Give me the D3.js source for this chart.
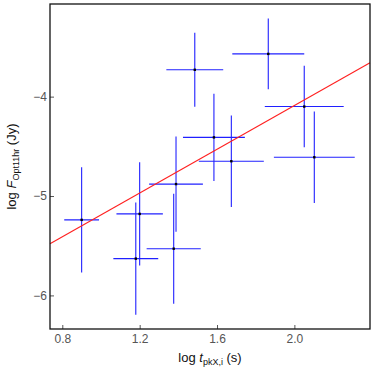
<!DOCTYPE html>
<html>
<head>
<meta charset="utf-8">
<script src="https://cdn.jsdelivr.net/npm/d3@7/dist/d3.min.js"></script>
<style>
  body { margin: 0; background: #fff; }
  text { font-family: "Liberation Sans", Arial, sans-serif; }
</style>
</head>
<body>
<svg id="chart" width="374" height="374"></svg>
<script>
// values
const logT    = [0.90, 1.18, 1.20, 1.376, 1.388, 1.485, 1.584, 1.674, 1.865, 2.051, 2.103];
const logTErr = [0.09, 0.116, 0.12, 0.14, 0.139, 0.147, 0.16, 0.168, 0.186, 0.204, 0.209];
const logF    = [-5.24, -5.63, -5.18, -5.53, -4.88, -3.73, -4.41, -4.65, -3.57, -4.10, -4.61];
const logFErr = [0.53, 0.565, 0.52, 0.553, 0.48, 0.372, 0.44, 0.46, 0.355, 0.41, 0.46];
const fit = { slope: 1.10, intercept: -6.29 };
const xTicks = [0.8, 1.2, 1.6, 2.0];
const yTicks = [-4, -5, -6];

const margin = { left: 50, right: 4, top: 4, bottom: 45 };
const W = 374, H = 374;

const svg = d3.select('#chart');

const x = d3.scaleLinear()
    .domain([0.7364, 2.391])
    .range([margin.left, W - margin.right]);
const y = d3.scaleLinear()
    .domain([-6.338, -3.068])
    .range([H - margin.bottom, margin.top]);

const data = logT.map((t, i) => ({ x: t, xe: logTErr[i], y: logF[i], ye: logFErr[i] }));

// error bars
const bars = svg.append('g').attr('stroke', '#2020ff').attr('stroke-width', 1.1);
data.forEach(d => {
    bars.append('line')
        .attr('x1', x(d.x - d.xe)).attr('x2', x(d.x + d.xe))
        .attr('y1', y(d.y)).attr('y2', y(d.y));
    bars.append('line')
        .attr('x1', x(d.x)).attr('x2', x(d.x))
        .attr('y1', y(d.y - d.ye)).attr('y2', y(d.y + d.ye));
});

// centre markers
svg.append('g').selectAll('rect')
    .data(data)
    .join('rect')
    .attr('x', d => x(d.x) - 1.2)
    .attr('y', d => y(d.y) - 1.2)
    .attr('width', 2.4)
    .attr('height', 2.4)
    .attr('fill', '#000');

// fitted line
const [x0, x1] = x.domain();
svg.append('line')
    .attr('x1', x(x0)).attr('y1', y(fit.slope * x0 + fit.intercept))
    .attr('x2', x(x1)).attr('y2', y(fit.slope * x1 + fit.intercept))
    .attr('stroke', '#ff2020')
    .attr('stroke-width', 1.1);

// axes with inward ticks
const xAxis = svg.append('g')
    .attr('transform', `translate(0,${H - margin.bottom})`)
    .call(d3.axisBottom(x).tickValues(xTicks).tickFormat(d3.format('.1f'))
        .tickSizeInner(-4).tickSizeOuter(0).tickPadding(5));
const yAxis = svg.append('g')
    .attr('transform', `translate(${margin.left},0)`)
    .call(d3.axisLeft(y).tickValues(yTicks).tickFormat(d => '\u2212' + Math.abs(d))
        .tickSizeInner(-4).tickSizeOuter(0).tickPadding(3));

[xAxis, yAxis].forEach(g => {
    g.select('.domain').remove();
    g.selectAll('.tick line').attr('stroke', '#555');
    g.selectAll('.tick text').attr('fill', '#555').attr('font-size', 12)
        .attr('font-family', '"Liberation Sans", Arial, sans-serif');
});

// frame
svg.append('rect')
    .attr('x', margin.left).attr('y', margin.top)
    .attr('width', W - margin.left - margin.right)
    .attr('height', H - margin.top - margin.bottom)
    .attr('fill', 'none')
    .attr('stroke', '#111')
    .attr('stroke-width', 1.3);

// axis titles
const xt = svg.append('text')
    .attr('x', 210).attr('y', 362)
    .attr('text-anchor', 'middle')
    .attr('font-size', 13)
    .attr('fill', '#111');
xt.append('tspan').text('log ');
xt.append('tspan').attr('font-style', 'italic').text('t');
xt.append('tspan').attr('font-size', 9).attr('dy', 3).text('pkX,i');
xt.append('tspan').attr('dy', -3).text(' (s)');

const yt = svg.append('text')
    .attr('transform', `translate(16,${(margin.top + H - margin.bottom) / 2}) rotate(-90)`)
    .attr('text-anchor', 'middle')
    .attr('font-size', 13)
    .attr('fill', '#111');
yt.append('tspan').text('log ');
yt.append('tspan').attr('font-style', 'italic').text('F');
yt.append('tspan').attr('font-size', 9).attr('dy', 3).text('Opt11hr');
yt.append('tspan').attr('dy', -3).text(' (Jy)');
</script>
</body>
</html>
